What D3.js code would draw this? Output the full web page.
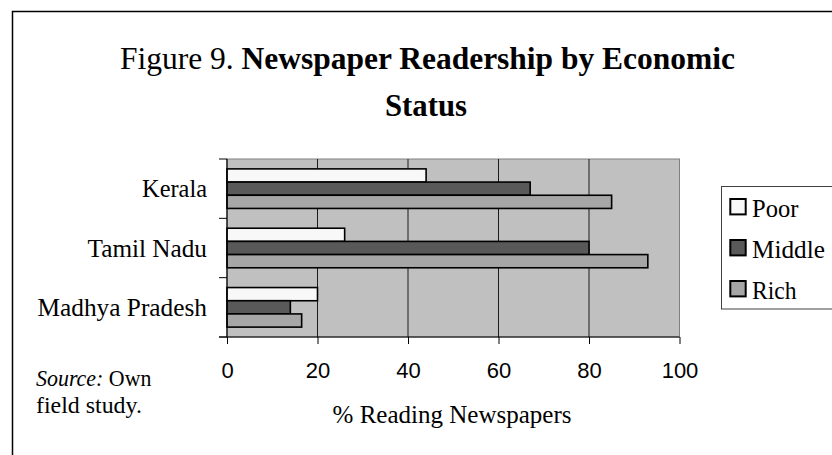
<!DOCTYPE html>
<html>
<head>
<meta charset="utf-8">
<script src="https://cdn.jsdelivr.net/npm/d3@7"></script>
<style>
  html, body { margin: 0; padding: 0; background: #fff; }
  svg { display: block; }
</style>
</head>
<body>
<svg id="chart" width="832" height="455"></svg>
<script>
// Newspaper readership (% reading) by state and economic group
const categories = ["Kerala", "Tamil Nadu", "Madhya Pradesh"];
const seriesNames = ["Poor", "Middle", "Rich"];
const poorValues = [44, 26, 20];
const middleValues = [67, 80, 14];
const richValues = [85, 93, 16.5];
const xTicks = [0, 20, 40, 60, 80, 100];

const seriesValues = [poorValues, middleValues, richValues];
const fills = ["#f8f8f8", "#595959", "#a6a6a6"];

const serif = "'Liberation Serif', 'Times New Roman', serif";
const sans = "'Liberation Sans', Arial, sans-serif";

const svg = d3.select("#chart");
svg.append("rect").attr("width", 832).attr("height", 455).attr("fill", "#fff");

// outer frame (runs off the right and bottom edges)
svg.append("rect")
  .attr("x", 12.5).attr("y", 11.5)
  .attr("width", 900).attr("height", 500)
  .attr("fill", "none").attr("stroke", "#000").attr("stroke-width", 1.5);

// stretch a text element horizontally so it spans a given width
function fit(sel, x, y, width) {
  const w = sel.node().getBBox().width;
  sel.attr("transform", `translate(${x},${y}) scale(${width / w},1)`);
  return sel;
}

// title
const t1 = svg.append("text")
  .attr("font-family", serif).attr("font-size", 32).attr("text-anchor", "middle")
  .attr("fill", "#000");
t1.append("tspan").text("Figure 9. ");
t1.append("tspan").attr("font-weight", "bold").text("Newspaper Readership by Economic");
fit(t1, 427.5, 69, 615);

const t2 = svg.append("text")
  .attr("font-family", serif).attr("font-size", 32).attr("font-weight", "bold")
  .attr("text-anchor", "middle").attr("fill", "#000")
  .text("Status");
fit(t2, 426, 116, 82);

// plot area
const plot = { left: 227, right: 679.5, top: 159, bottom: 337 };

const x = d3.scaleLinear().domain([0, 100]).range([plot.left, plot.right]);
const y0 = d3.scaleBand().domain(categories).range([plot.top, plot.bottom]).padding(0);
const y1 = d3.scaleBand().domain(seriesNames).range([0, y0.bandwidth()])
  .paddingInner(0).paddingOuter(0.75);

svg.append("rect")
  .attr("x", plot.left).attr("y", plot.top)
  .attr("width", plot.right - plot.left).attr("height", plot.bottom - plot.top)
  .attr("fill", "#c0c0c0").attr("stroke", "#808080").attr("stroke-width", 1);

// vertical gridlines
svg.append("g").selectAll("line")
  .data(xTicks.filter(d => d > 0 && d < 100))
  .join("line")
  .attr("x1", d => x(d)).attr("x2", d => x(d))
  .attr("y1", plot.top).attr("y2", plot.bottom)
  .attr("stroke", "#1a1a1a").attr("stroke-width", 1);

// bars
const rows = [];
categories.forEach((c, i) => {
  seriesNames.forEach((s, j) => rows.push({ cat: c, series: s, value: seriesValues[j][i], fill: fills[j] }));
});

svg.append("g").selectAll("rect")
  .data(rows)
  .join("rect")
  .attr("x", x(0))
  .attr("y", d => y0(d.cat) + y1(d.series))
  .attr("width", d => x(d.value) - x(0))
  .attr("height", y1.bandwidth())
  .attr("fill", d => d.fill)
  .attr("stroke", "#000").attr("stroke-width", 1.6);

// x axis
const xAxis = svg.append("g")
  .attr("transform", `translate(0,${plot.bottom})`)
  .call(d3.axisBottom(x).tickValues(xTicks).tickSizeInner(7).tickSizeOuter(0).tickPadding(18));
xAxis.select(".domain").remove();
xAxis.selectAll(".tick line").attr("stroke", "#000");
xAxis.selectAll(".tick text")
  .attr("font-family", sans).attr("font-size", 22).attr("fill", "#000");

// y axis: ticks at category boundaries
const bounds = categories.map(c => y0(c)).concat([y0.range()[1]]);
svg.append("g").selectAll("line")
  .data(bounds)
  .join("line")
  .attr("x1", plot.left - 8).attr("x2", plot.left)
  .attr("y1", d => d).attr("y2", d => d)
  .attr("stroke", "#000").attr("stroke-width", 1);

svg.append("line")
  .attr("x1", plot.left).attr("x2", plot.left)
  .attr("y1", plot.top).attr("y2", plot.bottom)
  .attr("stroke", "#000").attr("stroke-width", 1.2);
svg.append("line")
  .attr("x1", plot.left - 8).attr("x2", plot.right)
  .attr("y1", plot.bottom).attr("y2", plot.bottom)
  .attr("stroke", "#000").attr("stroke-width", 1.2);

// category labels
const labelWidths = { "Kerala": 65, "Tamil Nadu": 120, "Madhya Pradesh": 170 };
categories.forEach(c => {
  const t = svg.append("text")
    .attr("font-family", serif).attr("font-size", 25)
    .attr("text-anchor", "end").attr("fill", "#000")
    .text(c);
  fit(t, 207, y0(c) + y0.bandwidth() / 2 + 8.5, labelWidths[c]);
});

// x axis title
const xt = svg.append("text")
  .attr("font-family", serif).attr("font-size", 25)
  .attr("text-anchor", "middle").attr("fill", "#000")
  .text("% Reading Newspapers");
fit(xt, 452, 423, 239);

// source note
const s1 = svg.append("text")
  .attr("font-family", serif).attr("font-size", 23).attr("fill", "#000");
s1.append("tspan").attr("font-style", "italic").text("Source:");
s1.append("tspan").text(" Own");
fit(s1, 36, 386, 116);
const s2 = svg.append("text")
  .attr("font-family", serif).attr("font-size", 23).attr("fill", "#000")
  .text("field study.");
fit(s2, 36, 413, 106);

// legend
const legend = svg.append("g");
legend.append("rect")
  .attr("x", 721.5).attr("y", 186.5).attr("width", 200).attr("height", 122.5)
  .attr("fill", "#fff").attr("stroke", "#404040").attr("stroke-width", 1);
const legendWidths = { "Poor": 47, "Middle": 73, "Rich": 45 };
seriesNames.forEach((s, i) => {
  const top = 198 + i * 41;
  legend.append("rect")
    .attr("x", 730.3).attr("y", top + 1).attr("width", 15.4).attr("height", 15.4)
    .attr("fill", fills[i]).attr("stroke", "#000").attr("stroke-width", 2);
  const t = legend.append("text")
    .attr("font-family", serif).attr("font-size", 25).attr("fill", "#000")
    .text(s);
  fit(t, 752, top + 18.5, legendWidths[s]);
});
</script>
</body>
</html>
